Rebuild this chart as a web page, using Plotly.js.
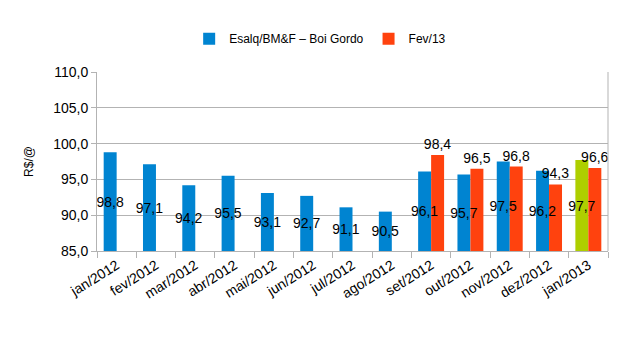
<!DOCTYPE html>
<html><head><meta charset="utf-8">
<script src="https://cdn.plot.ly/plotly-3.0.1.min.js"></script>
<style>body{margin:0;background:#fff}#c{width:634px;height:352px}</style>
</head><body><div id="c"></div>
<script>
const categories = ["jan/2012","fev/2012","mar/2012","abr/2012","mai/2012","jun/2012","jul/2012","ago/2012","set/2012","out/2012","nov/2012","dez/2012","jan/2013"];
const boiGordo = [98.8,97.1,94.2,95.5,93.1,92.7,91.1,90.5,96.1,95.7,97.5,96.2,97.7];
const fev13 = [null,null,null,null,null,null,null,null,98.4,96.5,96.8,94.3,96.6];
const blueColors = ["#0084d1","#0084d1","#0084d1","#0084d1","#0084d1","#0084d1","#0084d1","#0084d1","#0084d1","#0084d1","#0084d1","#0084d1","#aecf00"];
const axisFloor = 85;

const font = "Liberation Sans, Arial, sans-serif";
const traces = [
  {type:"bar", name:"Esalq/BM&F – Boi Gordo", x:categories, offsetgroup:"a",
   base:axisFloor, y:boiGordo.map(v => v - axisFloor),
   marker:{color:blueColors}, hoverinfo:"skip"},
  {type:"bar", name:"Fev/13", x:categories, y:fev13, offsetgroup:"b",
   marker:{color:"#ff420e"}, texttemplate:"%{y:.1f}", textposition:"outside",
   textangle:0, constraintext:"none", cliponaxis:false,
   outsidetextfont:{family:font,size:14,color:"#000"}, hoverinfo:"skip"},
  {type:"bar", name:"labels", showlegend:false, x:categories, offsetgroup:"a",
   base:axisFloor, y:boiGordo.map(v => v - axisFloor), customdata:boiGordo,
   marker:{color:"rgba(0,0,0,0)"}, texttemplate:"%{customdata:.1f}", textposition:"inside",
   insidetextanchor:"middle", textangle:0, constraintext:"none", cliponaxis:false,
   insidetextfont:{family:font,size:14,color:"#000"}, hoverinfo:"skip"}
];
const layout = {
  width:634, height:352, separators:",.",
  margin:{l:97,r:26,t:72,b:101},
  paper_bgcolor:"#fff", plot_bgcolor:"#fff",
  font:{family:font,size:13,color:"#000"},
  barmode:"group", bargap:0.34, bargroupgap:0,
  showlegend:true,
  legend:{orientation:"h", xref:"container", x:0.505, xanchor:"center", yref:"container", y:0.89, yanchor:"middle",
          font:{family:font,size:12}, traceorder:"normal"},
  xaxis:{type:"category", range:[-0.5,12.5], autorange:false, tickangle:-32, tickfont:{family:font,size:14},
         showline:true, linecolor:"#b3b3b3", ticks:"outside", tickson:"boundaries",
         ticklen:6, tickcolor:"#b3b3b3", showgrid:false, automargin:false},
  yaxis:{range:[85,110], autorange:false, dtick:5, tickformat:".1f", tickfont:{family:font,size:14},
         showgrid:true, gridcolor:"#b3b3b3", showline:true, linecolor:"#b3b3b3",
         ticks:"outside", ticklen:5, tickcolor:"#b3b3b3", zeroline:false, automargin:false,
         title:{text:"R$/@", font:{family:font,size:12}, standoff:16}},
  shapes:[{type:"line", xref:"paper", yref:"paper", x0:1, x1:1, y0:0, y1:1, line:{color:"#b3b3b3",width:1}}],
  annotations:[{text:"Fonte: Esalq/BM&FBovespa, elaboração BeefPoint.", xref:"container", yref:"container",
    x:0.513, y:0.074, xanchor:"center", yanchor:"middle", showarrow:false, font:{family:font,size:12}}]
};
Plotly.newPlot("c", traces, layout, {displayModeBar:false, staticPlot:true});
</script></body></html>
